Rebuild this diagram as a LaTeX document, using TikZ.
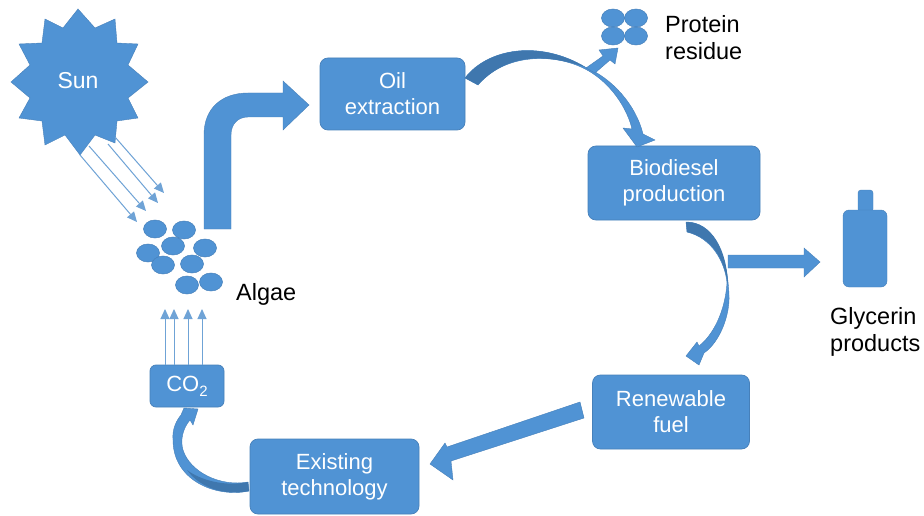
\documentclass[tikz,border=0pt]{standalone}
\usepackage{fontspec}
\setmainfont{Liberation Sans}
\usetikzlibrary{shapes.geometric,arrows.meta,calc}
\definecolor{bl}{HTML}{5093D4}
\definecolor{bd}{HTML}{4680BA}
\definecolor{dk}{HTML}{3F77AE}
\definecolor{ray}{HTML}{6FA3D6}
\tikzset{
  procbox/.style={fill=bl,draw=bd,line width=0.7pt,rounded corners=8pt,text=white,align=center,
    font=\fontsize{22}{26}\selectfont,inner sep=0pt},
  cell/.style={ellipse,fill=bl,draw=bd,line width=0.5pt,inner sep=0pt,minimum width=23pt,minimum height=18pt},
  lab/.style={text=black,align=left,font=\fontsize{23.5}{27}\selectfont,inner sep=0pt,anchor=west},
  bigarrow/.style={fill=bl,draw=bd,line width=0.4pt,line join=miter},
  shade/.style={fill=dk,draw=none},
  thin ray/.style={draw=ray,line width=1pt,-{Triangle[length=10pt,width=9pt,fill=ray]}}
}
\begin{document}
\begin{tikzpicture}[x=1pt,y=-1pt]
\useasboundingbox (0,0) rectangle (924,516);
\fill[white] (0,0) rectangle (924,516);

% sun
\path[bigarrow] (78,9) -- (95,28) -- (115,19) -- (117,43) -- (138,44) -- (128,65) -- (148,82) -- (128,98)
  -- (138,118) -- (117,121) -- (115,143) -- (95,135) -- (80,155) -- (65,135) -- (45,145) -- (42,121)
  -- (19,118) -- (30,98) -- (11,82) -- (30,65) -- (19,44) -- (42,43) -- (45,19) -- (63,28) -- cycle;
\node[text=white,font=\fontsize{23}{26}\selectfont,inner sep=0pt] (sun) at (78,81) {Sun};

% nodes
\node[procbox,minimum width=145pt,minimum height=72pt] (oil) at (392.5,94) {Oil\\extraction};
\node[procbox,minimum width=172pt,minimum height=74pt] (bio) at (674,183) {Biodiesel\\production};
\node[procbox,minimum width=157pt,minimum height=74pt] (ren) at (671,412) {Renewable\\fuel};
\node[procbox,minimum width=169pt,minimum height=75pt] (exi) at (334.5,476.5) {Existing\\technology};
\node[procbox,minimum width=74pt,minimum height=42pt,rounded corners=6pt] (co) at (187,386) {CO\raisebox{-5pt}{\fontsize{15}{15}\selectfont 2}};

\node[cell] (a1) at (155,229) {};
\node[cell] (a2) at (184,230) {};
\node[cell] (a3) at (173,246) {};
\node[cell] (a4) at (205,248) {};
\node[cell] (a5) at (148,253) {};
\node[cell] (a6) at (163,265) {};
\node[cell] (a7) at (192,264) {};
\node[cell] (a8) at (187,285) {};
\node[cell] (a9) at (211,282) {};

\node[cell] (p1) at (613,18) {};
\node[cell] (p2) at (636,18) {};
\node[cell] (p3) at (613,36) {};
\node[cell] (p4) at (636,36) {};

\node[lab] (algae) at (236,294) {Algae};
\node[lab] (prot) at (665,38) {Protein\\residue};
\node[lab] (gly) at (830,332) {Glycerin\\products};

% bottle
\fill[bl,draw=bd,line width=0.4pt,rounded corners=3pt] (858,212) -- (858,190) -- (873,190) -- (873,212) -- cycle;
\fill[bl,draw=bd,line width=0.4pt,rounded corners=6pt] (843,210) rectangle (887,287);

% sun rays
\coordinate (r1a) at (80,155);  \coordinate (r1b) at (137,222);
\coordinate (r2a) at (89,146);  \coordinate (r2b) at (146,211);
\coordinate (r3a) at (108,144); \coordinate (r3b) at (158,203);
\coordinate (r4a) at (115,137); \coordinate (r4b) at (164,193);
\draw[thin ray] (r1a) -- (r1b);
\draw[thin ray] (r2a) -- (r2b);
\draw[thin ray] (r3a) -- (r3b);
\draw[thin ray] (r4a) -- (r4b);

% CO2 arrows
\foreach \x/\n in {165/c1,174/c2,188/c3,202/c4}{
  \coordinate (\n a) at (\x,365); \coordinate (\n b) at (\x,309);
  \draw[thin ray] (\n a) -- (\n b);
}

% algae -> oil bent arrow
\path[bigarrow] (204,229) -- (204,135) .. controls (204,108) and (222,93) .. (248,93)
  -- (283,93) -- (283,81) -- (309,105) -- (283,130) -- (283,117) -- (248,117)
  .. controls (238,117) and (231,124) .. (231,135) -- (231,229) -- cycle;

% oil -> biodiesel
\path[bigarrow] (465,78) .. controls (488,48) and (540,40) .. (585,67)
  .. controls (612,78) and (636,105) .. (643,134)
  -- (655,140) -- (637,147) -- (623,128) -- (632,129)
  .. controls (628,112) and (615,88) .. (592,73)
  .. controls (560,52) and (505,52) .. (478,85) -- cycle;
\path[shade] (465,78) .. controls (488,48) and (540,40) .. (585,67)
  .. controls (540,52) and (505,56) .. (478,85) -- cycle;
% oil branch -> protein
\path[bigarrow] (586,68) -- (603,56) -- (599,50) -- (618,48) -- (615,64) -- (610,60) -- (595,73) -- cycle;

% biodiesel -> renewable
\path[bigarrow] (686,222) .. controls (712,222) and (727,250) .. (729,295)
  .. controls (730,315) and (720,342) .. (704,353)
  -- (699,365) -- (686,356) -- (697,342) -- (699,346)
  .. controls (713,335) and (725,312) .. (727,283)
  .. controls (725,262) and (712,238) .. (687,232) -- cycle;
\path[shade] (686,222) .. controls (712,222) and (727,250) .. (728,285)
  .. controls (724,258) and (712,238) .. (687,232) -- cycle;

% biodiesel -> glycerin
\path[bigarrow] (728,255) -- (804,255) -- (804,248) -- (820,262) -- (804,277) -- (804,268) -- (728,268) -- cycle;

% renewable -> existing
\path[bigarrow] (580,402) -- (584,418) -- (451,461) -- (453,480) -- (430,464) -- (445,443) -- (447,447) -- cycle;

% existing -> CO2
\path[bigarrow] (249,491) .. controls (215,498) and (173,480) .. (173,440)
  .. controls (172,428) and (177,420) .. (181,415)
  -- (184,408) -- (198,409) -- (193,425) -- (190,420)
  .. controls (183,428) and (180,440) .. (183,450)
  .. controls (190,472) and (220,487) .. (248,482) -- cycle;
\path[shade] (249,491) .. controls (225,496) and (200,488) .. (187,470)
  .. controls (200,480) and (225,487) .. (248,482) -- cycle;
\end{tikzpicture}
\end{document}
